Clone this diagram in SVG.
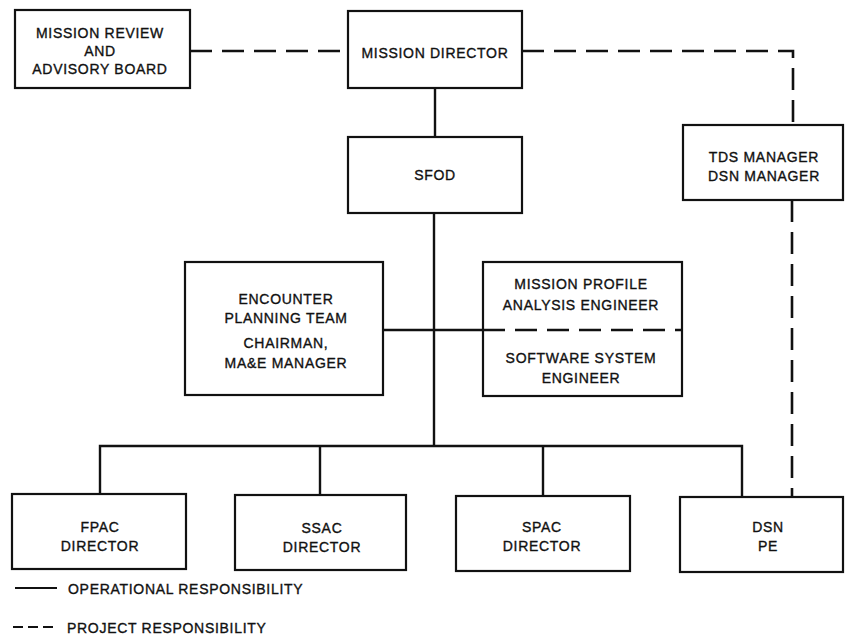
<svg xmlns="http://www.w3.org/2000/svg" width="845" height="635" viewBox="0 0 845 635">
  <style>
    .box { fill: #fff; stroke: #111; stroke-width: 2.2; }
    .solid { fill: none; stroke: #111; stroke-width: 2.4; }
    .dash { fill: none; stroke: #111; stroke-width: 2.6; stroke-dasharray: 22 10; }
    text { font-family: "Liberation Sans", Arial, sans-serif; font-size: 14px; fill: #111; stroke: #111; stroke-width: 0.35; text-anchor: middle; letter-spacing: 0.7px; }
    .legend { text-anchor: start; }
  </style>
  <rect width="845" height="635" fill="#fff"/>

  <!-- connectors -->
  <g id="connectors">
    <!-- project responsibility (dashed) -->
    <path class="dash" d="M190 51 H348"/>
    <path class="dash" d="M522 51 H793 V125"/>
    <path class="dash" d="M792 200 V497"/>
    <!-- operational responsibility (solid) -->
    <path class="solid" d="M435 88 V137"/>
    <path class="solid" d="M434 213 V446"/>
    <path class="solid" d="M383 330 H483"/>
    <path class="solid" d="M100 494 V446 H742 V497"/>
    <path class="solid" d="M320 446 V495"/>
    <path class="solid" d="M543 446 V496"/>
  </g>

  <g id="mission-review">
    <rect class="box" x="15" y="10" width="175" height="78"/>
    <text x="100" y="38">MISSION REVIEW</text>
    <text x="100" y="56">AND</text>
    <text x="100" y="74">ADVISORY BOARD</text>
  </g>

  <g id="mission-director">
    <rect class="box" x="348" y="11" width="174" height="77"/>
    <text x="435" y="58">MISSION DIRECTOR</text>
  </g>

  <g id="sfod">
    <rect class="box" x="348" y="137" width="174" height="76"/>
    <text x="435" y="180">SFOD</text>
  </g>

  <g id="tds-dsn-manager">
    <rect class="box" x="683" y="125" width="160" height="75"/>
    <text x="764" y="162">TDS MANAGER</text>
    <text x="764" y="181">DSN MANAGER</text>
  </g>

  <g id="encounter-planning">
    <rect class="box" x="185" y="262" width="198" height="133"/>
    <text x="286" y="304">ENCOUNTER</text>
    <text x="286" y="323">PLANNING TEAM</text>
    <text x="286" y="348">CHAIRMAN,</text>
    <text x="286" y="368">MA&amp;E MANAGER</text>
  </g>

  <g id="profile-software">
    <rect class="box" x="483" y="262" width="199" height="134"/>
    <path class="dash" d="M483 330 H682"/>
    <text x="581" y="289">MISSION PROFILE</text>
    <text x="581" y="310">ANALYSIS ENGINEER</text>
    <text x="581" y="363">SOFTWARE SYSTEM</text>
    <text x="581" y="383">ENGINEER</text>
  </g>

  <g id="fpac">
    <rect class="box" x="12" y="494" width="174" height="75"/>
    <text x="100" y="532">FPAC</text>
    <text x="100" y="551">DIRECTOR</text>
  </g>

  <g id="ssac">
    <rect class="box" x="235" y="495" width="171" height="75"/>
    <text x="322" y="533">SSAC</text>
    <text x="322" y="552">DIRECTOR</text>
  </g>

  <g id="spac">
    <rect class="box" x="456" y="496" width="174" height="75"/>
    <text x="542" y="532">SPAC</text>
    <text x="542" y="551">DIRECTOR</text>
  </g>

  <g id="dsn-pe">
    <rect class="box" x="680" y="497" width="163" height="75"/>
    <text x="768" y="532">DSN</text>
    <text x="768" y="551">PE</text>
  </g>

  <g id="legend">
    <path class="solid" d="M15 588 H57" style="stroke-width:2"/>
    <text class="legend" x="68" y="594">OPERATIONAL RESPONSIBILITY</text>
    <path class="dash" d="M13 627 H57" style="stroke-dasharray:10 5;stroke-width:2.2"/>
    <text class="legend" x="67" y="633">PROJECT RESPONSIBILITY</text>
  </g>
</svg>
